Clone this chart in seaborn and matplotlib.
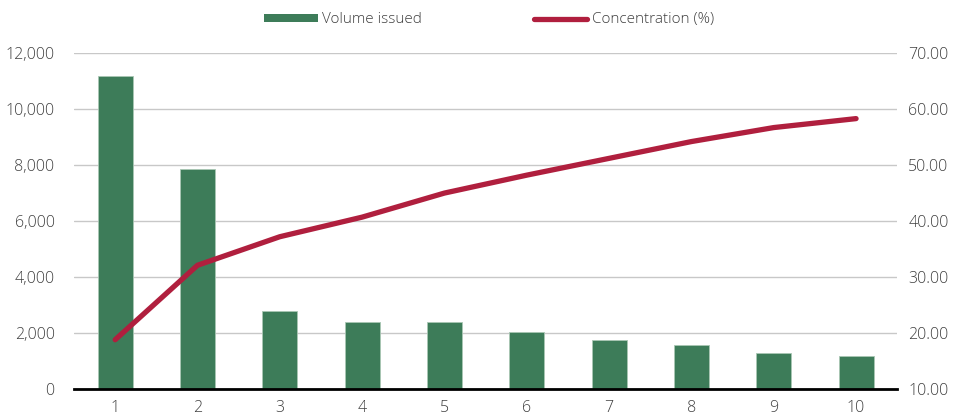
import numpy as np
import pandas as pd
import matplotlib
matplotlib.use("Agg")
import matplotlib.pyplot as plt
from matplotlib.lines import Line2D
from matplotlib.patches import Patch
from matplotlib.ticker import FuncFormatter
import seaborn as sns

# Data
ranks = ["1", "2", "3", "4", "5", "6", "7", "8", "9", "10"]
volume_issued = [11180, 7860, 2790, 2400, 2400, 2025, 1750, 1560, 1275, 1180]
concentration = [18.8, 32.1, 37.2, 40.7, 45.0, 48.2, 51.2, 54.2, 56.7, 58.3]

GREEN = "#3d7c59"
RED = "#b01f3e"
TEXT = "#404040"
GRID = "#c8c8c8"

sns.set_theme(style="white")
plt.rcParams["font.family"] = ["Open Sans", "DejaVu Sans"]
plt.rcParams["font.weight"] = "light"

df = pd.DataFrame({"rank": ranks, "volume": volume_issued,
                   "pos": np.arange(len(ranks)), "conc": concentration})

fig = plt.figure(figsize=(9.55, 4.15), dpi=100)
ax = fig.add_axes([0.0775, 0.0627, 0.862, 0.8093])

sns.barplot(data=df, x="rank", y="volume", color=GREEN, saturation=1,
            width=0.425, edgecolor="#a9c7b4", linewidth=0.6, ax=ax, zorder=3)
ax.set_ylim(0, 12000)
ax.set_yticks(np.arange(0, 12001, 2000))
ax.yaxis.set_major_formatter(FuncFormatter(lambda v, p: f"{v:,.0f}"))
ax.set_xlim(-0.5, len(ranks) - 0.5)
ax.grid(axis="y", color=GRID, linewidth=1.0, zorder=0)
ax.set_axisbelow(True)
for s in ["top", "right", "left"]:
    ax.spines[s].set_visible(False)
ax.spines["bottom"].set_color("black")
ax.spines["bottom"].set_linewidth(2.0)
ax.spines["bottom"].set_zorder(5)
ax.set_xlabel("")
ax.set_ylabel("")
ax.tick_params(axis="both", length=0, labelsize=11.5, labelcolor=TEXT)
ax.tick_params(axis="y", pad=14)
ax.tick_params(axis="x", pad=8)

ax2 = ax.twinx()
sns.lineplot(data=df, x="pos", y="conc", color=RED, linewidth=3.8, ax=ax2,
             solid_capstyle="round", solid_joinstyle="round", zorder=4)
ax2.set_ylim(10, 70)
ax2.set_yticks(np.arange(10, 71, 10))
ax2.yaxis.set_major_formatter(FuncFormatter(lambda v, p: f"{v:.2f}"))
ax2.set_xlim(-0.5, len(ranks) - 0.5)
for s in ["top", "right", "left", "bottom"]:
    ax2.spines[s].set_visible(False)
ax2.set_ylabel("")
ax2.set_xlabel("")
ax2.tick_params(axis="y", length=0, labelsize=11.5, labelcolor=TEXT, pad=8)
ax2.grid(False)

handles = [Patch(facecolor=GREEN, edgecolor="none"),
           Line2D([0], [0], color=RED, linewidth=3.8, solid_capstyle="round")]
fig.legend(handles, ["Volume issued", "Concentration (%)"], loc="center",
           bbox_to_anchor=(0.512, 0.952), ncol=2, frameon=False,
           fontsize=11, labelcolor=TEXT, handlelength=3.5, handleheight=0.5,
           handletextpad=0.3, columnspacing=7.3)

fig.savefig("out.png", dpi=100)
